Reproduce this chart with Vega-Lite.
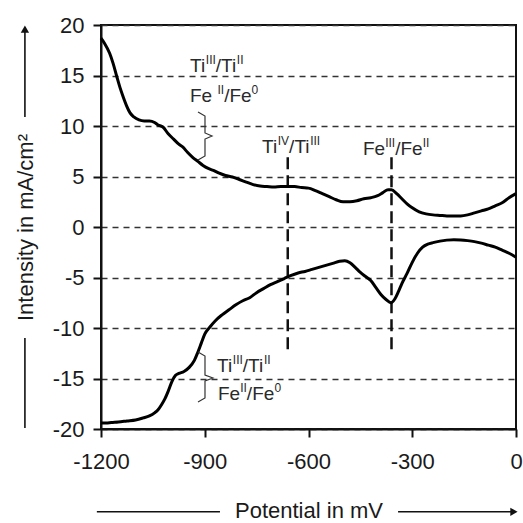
{
  "$schema": "https://vega.github.io/schema/vega-lite/v6.json",
  "width": 415,
  "height": 404,
  "autosize": {"type": "none"},
  "padding": {"left": 101, "top": 25, "right": 7, "bottom": 94},
  "background": "white",
  "config": {
    "view": {"stroke": "#111", "strokeWidth": 2},
    "font": "Liberation Sans"
  },
  "datasets": {
    "curves": [
      {"c":"a","x":-1200,"y":18.7},{"c":"a","x":-1190,"y":18.2},{"c":"a","x":-1175,"y":17.2},{"c":"a","x":-1165,"y":16.2},
      {"c":"a","x":-1154,"y":14.85},{"c":"a","x":-1145,"y":13.8},{"c":"a","x":-1136,"y":12.9},{"c":"a","x":-1126,"y":12.0},
      {"c":"a","x":-1116,"y":11.3},{"c":"a","x":-1105,"y":10.9},{"c":"a","x":-1090,"y":10.6},{"c":"a","x":-1075,"y":10.5},
      {"c":"a","x":-1060,"y":10.5},{"c":"a","x":-1045,"y":10.35},{"c":"a","x":-1035,"y":10.1},{"c":"a","x":-1021,"y":9.9},
      {"c":"a","x":-1005,"y":9.2},{"c":"a","x":-990,"y":8.7},{"c":"a","x":-975,"y":8.2},{"c":"a","x":-963,"y":7.9},
      {"c":"a","x":-950,"y":7.4},{"c":"a","x":-935,"y":6.9},{"c":"a","x":-920,"y":6.5},{"c":"a","x":-905,"y":6.1},
      {"c":"a","x":-890,"y":5.8},{"c":"a","x":-875,"y":5.6},{"c":"a","x":-860,"y":5.35},{"c":"a","x":-840,"y":5.1},
      {"c":"a","x":-820,"y":4.95},{"c":"a","x":-800,"y":4.7},{"c":"a","x":-780,"y":4.45},{"c":"a","x":-760,"y":4.2},
      {"c":"a","x":-740,"y":4.05},{"c":"a","x":-720,"y":4.0},{"c":"a","x":-700,"y":3.95},{"c":"a","x":-680,"y":4.0},
      {"c":"a","x":-660,"y":4.0},{"c":"a","x":-640,"y":4.0},{"c":"a","x":-620,"y":3.9},{"c":"a","x":-600,"y":3.85},
      {"c":"a","x":-580,"y":3.6},{"c":"a","x":-560,"y":3.3},{"c":"a","x":-540,"y":3.0},{"c":"a","x":-520,"y":2.7},
      {"c":"a","x":-500,"y":2.5},{"c":"a","x":-480,"y":2.5},{"c":"a","x":-460,"y":2.6},{"c":"a","x":-440,"y":2.8},
      {"c":"a","x":-420,"y":2.9},{"c":"a","x":-400,"y":3.1},{"c":"a","x":-385,"y":3.4},{"c":"a","x":-370,"y":3.7},
      {"c":"a","x":-360,"y":3.7},{"c":"a","x":-345,"y":3.3},{"c":"a","x":-330,"y":2.8},{"c":"a","x":-315,"y":2.3},
      {"c":"a","x":-300,"y":1.9},{"c":"a","x":-280,"y":1.5},{"c":"a","x":-260,"y":1.3},{"c":"a","x":-240,"y":1.2},
      {"c":"a","x":-220,"y":1.15},{"c":"a","x":-200,"y":1.1},{"c":"a","x":-180,"y":1.1},{"c":"a","x":-160,"y":1.1},
      {"c":"a","x":-140,"y":1.2},{"c":"a","x":-120,"y":1.4},{"c":"a","x":-100,"y":1.6},{"c":"a","x":-80,"y":1.8},
      {"c":"a","x":-60,"y":2.1},{"c":"a","x":-40,"y":2.4},{"c":"a","x":-20,"y":2.9},{"c":"a","x":0,"y":3.3},
      {"c":"b","x":-1200,"y":-19.4},{"c":"b","x":-1185,"y":-19.4},{"c":"b","x":-1170,"y":-19.35},{"c":"b","x":-1150,"y":-19.3},
      {"c":"b","x":-1125,"y":-19.2},{"c":"b","x":-1100,"y":-19.1},{"c":"b","x":-1078,"y":-18.9},{"c":"b","x":-1060,"y":-18.7},
      {"c":"b","x":-1045,"y":-18.4},{"c":"b","x":-1035,"y":-18.1},{"c":"b","x":-1025,"y":-17.6},{"c":"b","x":-1015,"y":-17.0},
      {"c":"b","x":-1005,"y":-16.2},{"c":"b","x":-995,"y":-15.3},{"c":"b","x":-985,"y":-14.7},{"c":"b","x":-975,"y":-14.5},
      {"c":"b","x":-960,"y":-14.3},{"c":"b","x":-945,"y":-13.9},{"c":"b","x":-930,"y":-13.2},{"c":"b","x":-920,"y":-12.4},
      {"c":"b","x":-910,"y":-11.5},{"c":"b","x":-900,"y":-10.6},{"c":"b","x":-885,"y":-9.9},{"c":"b","x":-870,"y":-9.3},
      {"c":"b","x":-850,"y":-8.7},{"c":"b","x":-830,"y":-8.2},{"c":"b","x":-810,"y":-7.7},{"c":"b","x":-790,"y":-7.3},
      {"c":"b","x":-770,"y":-7.0},{"c":"b","x":-750,"y":-6.5},{"c":"b","x":-730,"y":-6.1},{"c":"b","x":-710,"y":-5.7},
      {"c":"b","x":-690,"y":-5.4},{"c":"b","x":-670,"y":-5.1},{"c":"b","x":-650,"y":-4.8},{"c":"b","x":-630,"y":-4.55},
      {"c":"b","x":-610,"y":-4.4},{"c":"b","x":-590,"y":-4.2},{"c":"b","x":-570,"y":-4.0},{"c":"b","x":-550,"y":-3.8},
      {"c":"b","x":-530,"y":-3.6},{"c":"b","x":-510,"y":-3.4},{"c":"b","x":-495,"y":-3.35},{"c":"b","x":-480,"y":-3.55},
      {"c":"b","x":-465,"y":-4.0},{"c":"b","x":-450,"y":-4.5},{"c":"b","x":-435,"y":-4.9},{"c":"b","x":-420,"y":-5.3},
      {"c":"b","x":-405,"y":-6.0},{"c":"b","x":-390,"y":-6.7},{"c":"b","x":-375,"y":-7.2},{"c":"b","x":-362,"y":-7.5},
      {"c":"b","x":-350,"y":-7.1},{"c":"b","x":-340,"y":-6.4},{"c":"b","x":-330,"y":-5.6},{"c":"b","x":-315,"y":-4.6},
      {"c":"b","x":-300,"y":-3.5},{"c":"b","x":-285,"y":-2.6},{"c":"b","x":-270,"y":-2.0},{"c":"b","x":-255,"y":-1.7},
      {"c":"b","x":-240,"y":-1.55},{"c":"b","x":-220,"y":-1.4},{"c":"b","x":-200,"y":-1.3},{"c":"b","x":-180,"y":-1.25},
      {"c":"b","x":-160,"y":-1.28},{"c":"b","x":-140,"y":-1.35},{"c":"b","x":-120,"y":-1.45},{"c":"b","x":-100,"y":-1.6},
      {"c":"b","x":-80,"y":-1.8},{"c":"b","x":-60,"y":-2.0},{"c":"b","x":-40,"y":-2.3},{"c":"b","x":-20,"y":-2.6},
      {"c":"b","x":0,"y":-3.0}
    ],
    "braces": [
      {"b":"u","i":0,"x":-919.5,"y":11.39},{"b":"u","i":1,"x":-899.3,"y":10.99},{"b":"u","i":2,"x":-899.3,"y":9.31},
      {"b":"u","i":3,"x":-879.0,"y":9.01},{"b":"u","i":4,"x":-899.3,"y":8.71},{"b":"u","i":5,"x":-899.3,"y":7.03},
      {"b":"u","i":6,"x":-919.5,"y":6.63},
      {"b":"l","i":0,"x":-919.5,"y":-12.38},{"b":"l","i":1,"x":-899.3,"y":-12.77},{"b":"l","i":2,"x":-899.3,"y":-14.65},
      {"b":"l","i":3,"x":-876.2,"y":-14.95},{"b":"l","i":4,"x":-899.3,"y":-15.25},{"b":"l","i":5,"x":-899.3,"y":-16.93},
      {"b":"l","i":6,"x":-919.5,"y":-17.33}
    ],
    "vlines": [
      {"x":-660,"y":6.9,"y2":-12.2},
      {"x":-360,"y":6.9,"y2":-12.2}
    ],
    "arrows": [
      {"x":-1420,"x2":-1420,"y":10.9,"y2":19.8},
      {"x":-1420,"x2":-1420,"y":-11.0,"y2":-19.9},
      {"x":-1212,"x2":-856,"y":-28.2,"y2":-28.2},
      {"x":-341,"x2":-8,"y":-28.2,"y2":-28.2}
    ],
    "heads": [
      {"x":-1420,"y":19.6,"dir":"up"},
      {"x":-6,"y":-28.2,"dir":"right"}
    ],
    "labels": [
      {"x":-942.6,"y":15.3,"t":"Ti","sup":false},
      {"x":-896.9,"y":15.3,"t":"III","sup":true},
      {"x":-868.3,"y":15.3,"t":"/Ti","sup":false},
      {"x":-807.3,"y":15.3,"t":"II","sup":true},
      {"x":-942.6,"y":12.38,"t":"Fe","sup":false},
      {"x":-863.1,"y":12.38,"t":"II","sup":true},
      {"x":-843.9,"y":12.38,"t":"/Fe","sup":false},
      {"x":-764.5,"y":12.38,"t":"0","sup":true},
      {"x":-734.4,"y":7.33,"t":"Ti","sup":false},
      {"x":-688.8,"y":7.33,"t":"IV","sup":true},
      {"x":-656.1,"y":7.33,"t":"/Ti","sup":false},
      {"x":-595.1,"y":7.33,"t":"III","sup":true},
      {"x":-442.4,"y":7.13,"t":"Fe","sup":false},
      {"x":-378.2,"y":7.13,"t":"III","sup":true},
      {"x":-349.3,"y":7.13,"t":"/Fe","sup":false},
      {"x":-269.8,"y":7.13,"t":"II","sup":true},
      {"x":-864.6,"y":-14.36,"t":"Ti","sup":false},
      {"x":-818.9,"y":-14.36,"t":"III","sup":true},
      {"x":-790.0,"y":-14.36,"t":"/Ti","sup":false},
      {"x":-729.0,"y":-14.36,"t":"II","sup":true},
      {"x":-861.7,"y":-17.13,"t":"Fe","sup":false},
      {"x":-797.5,"y":-17.13,"t":"II","sup":true},
      {"x":-778.2,"y":-17.13,"t":"/Fe","sup":false},
      {"x":-698.6,"y":-17.13,"t":"0","sup":true}
    ]
  },
  "encoding": {
    "x": {
      "field": "x", "type": "quantitative",
      "scale": {"domain": [-1200, 0], "nice": false, "zero": false},
      "axis": {
        "values": [-1200, -900, -600, -300, 0],
        "labelExpr": "datum.value + ''",
        "grid": false,
        "domainColor": "#111", "domainWidth": 2,
        "tickColor": "#111", "tickWidth": 2, "tickSize": 8,
        "labelFont": "Liberation Sans", "labelFontSize": 22, "labelColor": "#1a1a1a",
        "labelPadding": 14, "labelFlush": false, "labelOverlap": false,
        "title": "Potential in mV",
        "titleFont": "Liberation Sans", "titleFontSize": 22, "titleFontWeight": "normal", "titleColor": "#1a1a1a",
        "titleX": 207.5, "titleY": 81, "titleAlign": "center", "titleBaseline": "middle"
      }
    },
    "y": {
      "field": "y", "type": "quantitative",
      "scale": {"domain": [-20, 20], "nice": false, "zero": false},
      "axis": {
        "values": [-20, -15, -10, -5, 0, 5, 10, 15, 20],
        "labelExpr": "datum.value + ''",
        "grid": true, "gridColor": "#333", "gridDash": [6, 5], "gridWidth": 1.3,
        "domainColor": "#111", "domainWidth": 2,
        "tickColor": "#111", "tickWidth": 2, "tickSize": 8,
        "labelFont": "Liberation Sans", "labelFontSize": 22, "labelColor": "#1a1a1a",
        "labelPadding": 9, "labelOverlap": false,
        "title": "Intensity in mA/cm²",
        "titleFont": "Liberation Sans", "titleFontSize": 22, "titleFontWeight": "normal", "titleColor": "#1a1a1a",
        "titleAngle": -90, "titleX": -76, "titleY": 202, "titleAlign": "center", "titleBaseline": "middle"
      }
    }
  },
  "layer": [
    {
      "data": {"name": "vlines"},
      "mark": {"type": "rule", "color": "#111", "strokeWidth": 2.5, "strokeDash": [12, 6]},
      "encoding": {"y2": {"field": "y2"}}
    },
    {
      "data": {"name": "curves"},
      "mark": {"type": "line", "color": "#000", "strokeWidth": 3, "interpolate": "monotone"},
      "encoding": {"detail": {"field": "c"}}
    },
    {
      "data": {"name": "braces"},
      "mark": {"type": "line", "color": "#333", "strokeWidth": 1.2},
      "encoding": {"detail": {"field": "b"}, "order": {"field": "i", "type": "quantitative"}}
    },
    {
      "data": {"name": "arrows"},
      "mark": {"type": "rule", "color": "#111", "strokeWidth": 1.6, "clip": false},
      "encoding": {"x2": {"field": "x2"}, "y2": {"field": "y2"}}
    },
    {
      "data": {"name": "heads"},
      "mark": {"type": "point", "filled": true, "color": "#111", "size": 70, "opacity": 1, "clip": false},
      "encoding": {
        "shape": {"field": "dir", "type": "nominal", "scale": {"domain": ["up", "right"], "range": ["triangle-up", "triangle-right"]}, "legend": null}
      }
    },
    {
      "data": {"name": "labels"},
      "transform": [{"filter": "!datum.sup"}],
      "mark": {"type": "text", "align": "left", "baseline": "alphabetic", "font": "Liberation Sans", "fontSize": 19, "color": "#2a2a2a"},
      "encoding": {"text": {"field": "t"}}
    },
    {
      "data": {"name": "labels"},
      "transform": [{"filter": "datum.sup"}],
      "mark": {"type": "text", "align": "left", "baseline": "alphabetic", "font": "Liberation Sans", "fontSize": 12, "dy": -8, "color": "#2a2a2a"},
      "encoding": {"text": {"field": "t"}}
    }
  ]
}
